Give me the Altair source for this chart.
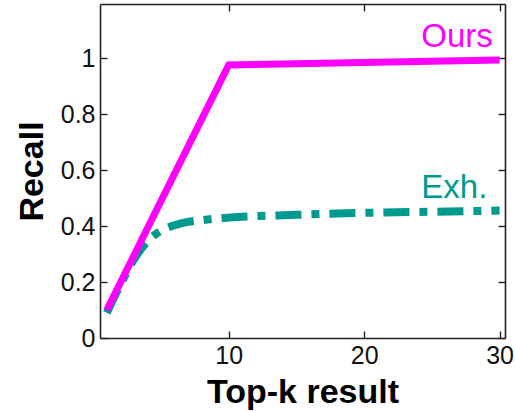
import altair as alt
import pandas as pd

# ---- data ----
ours_k = [1, 10, 30]
ours_recall = [0.10, 0.975, 0.993]

exh_k = [1, 2, 3, 4, 5, 6, 7, 8, 10, 15, 20, 25, 30]
exh_recall = [0.09, 0.19, 0.28, 0.345, 0.383, 0.403, 0.415, 0.421, 0.43, 0.44, 0.447, 0.451, 0.455]

label_text = ["Ours", "Exh."]
label_k = [29.5, 29.1]
label_recall = [1.039, 0.50]
label_color = ["#FF00FF", "#009990"]

x_ticks = [10, 20, 30]
y_ticks = [0, 0.2, 0.4, 0.6, 0.8, 1]

ours_df = pd.DataFrame({"k": ours_k, "recall": ours_recall})
exh_df = pd.DataFrame({"k": exh_k, "recall": exh_recall})
lab_df = pd.DataFrame({"k": label_k, "recall": label_recall, "text": label_text, "c": label_color})

FONT = "Liberation Sans"
xscale = alt.Scale(domain=[0.5, 30.4], nice=False, zero=False)
yscale = alt.Scale(domain=[0, 1.193], nice=False, zero=False)
inward = alt.ExprRef(expr="-7")

common = dict(grid=False, domainColor="#222222", domainWidth=1.6, tickColor="#222222",
              tickWidth=1.4, labelFont=FONT, labelFontSize=25, labelColor="#111111")

x_main = alt.Axis(orient="bottom", values=x_ticks, tickSize=inward, labelPadding=12,
                  title="Top-k result", titleFont=FONT, titleFontSize=34, titleFontWeight="bold",
                  titleColor="#000000", titleY=64, titleBaseline="alphabetic", **common)
y_main = alt.Axis(orient="left", values=y_ticks, tickSize=inward, labelPadding=12, format="~g",
                  title="Recall", titleFont=FONT, titleFontSize=34, titleFontWeight="bold",
                  titleColor="#000000", titleX=-58, titleBaseline="alphabetic", **common)
x_top = alt.Axis(orient="top", values=x_ticks, tickSize=inward, labels=False, title=None, **common)
y_right = alt.Axis(orient="right", values=y_ticks, tickSize=inward, labels=False, title=None, **common)

exh = alt.Chart(exh_df).mark_line(
    color="#009990", strokeWidth=8, strokeDash=[26, 10, 8, 10], strokeCap="butt", interpolate="monotone"
).encode(
    x=alt.X("k:Q", scale=xscale, axis=x_main),
    y=alt.Y("recall:Q", scale=yscale, axis=y_main),
)

ours = alt.Chart(ours_df).mark_line(color="#FF00FF", strokeWidth=7, strokeCap="butt").encode(
    x=alt.X("k:Q", scale=xscale, axis=x_top),
    y=alt.Y("recall:Q", scale=yscale, axis=y_right),
)

labels = alt.Chart(lab_df).mark_text(
    font=FONT, fontSize=33, align="right", baseline="alphabetic"
).encode(
    x=alt.X("k:Q", scale=xscale, axis=None),
    y=alt.Y("recall:Q", scale=yscale, axis=None),
    text="text:N",
    color=alt.Color("c:N", scale=None, legend=None),
)

chart = alt.layer(exh, ours, labels).resolve_axis(x="independent", y="independent").properties(
    width=405, height=334,
    autosize=alt.AutoSizeParams(type="none"),
    padding={"left": 100, "top": 4, "right": 10, "bottom": 73},
    background="white",
).configure_view(stroke=None)

chart.save("out.html", embed_options={"renderer": "svg", "actions": False})
